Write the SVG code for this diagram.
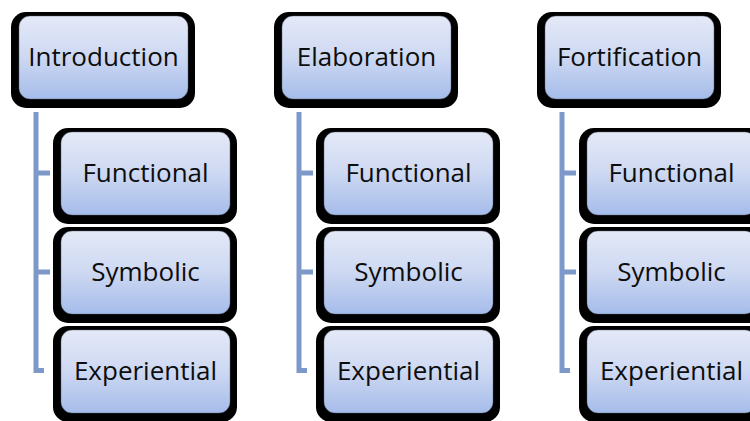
<svg xmlns="http://www.w3.org/2000/svg" width="750" height="421" viewBox="0 0 750 421">
  <defs>
    <linearGradient id="fillGrad" x1="0" y1="0" x2="0" y2="1">
      <stop offset="0" stop-color="#e4e9f7"/>
      <stop offset="0.5" stop-color="#cdd8f2"/>
      <stop offset="1" stop-color="#a5bcea"/>
    </linearGradient>
  </defs>
  <style>
    .outer { fill: #000000; }
    .inner { fill: url(#fillGrad); stroke: #5b6478; stroke-opacity: 0.45; stroke-width: 1; }
    .label { font-family: "Open Sans", "DejaVu Sans", sans-serif; font-size: 26px; fill: #0d0d0d; text-anchor: middle; }
    .conn { fill: none; stroke: #7d99ca; stroke-width: 5; stroke-linecap: butt; stroke-linejoin: miter; }
  </style>

  <g id="connectors">
    <path class="conn" d="M36,112 V370.5 H44 M36,173 H50 M36,272 H50"/>
    <path class="conn" d="M299,112 V370.5 H307 M299,173 H313 M299,272 H313"/>
    <path class="conn" d="M562,112 V370.5 H570 M562,173 H576 M562,272 H576"/>
  </g>

  <g id="introduction">
    <rect class="outer" x="11" y="12" width="184" height="96" rx="15"/>
    <rect class="inner" x="19" y="16" width="169" height="83" rx="11"/>
    <text class="label" x="103.5" y="66">Introduction</text>
  </g>
  <g id="intro-functional">
    <rect class="outer" x="53" y="128" width="184" height="96" rx="15"/>
    <rect class="inner" x="61" y="132" width="169" height="83" rx="11"/>
    <text class="label" x="145.5" y="182">Functional</text>
  </g>
  <g id="intro-symbolic">
    <rect class="outer" x="53" y="227" width="184" height="96" rx="15"/>
    <rect class="inner" x="61" y="231" width="169" height="83" rx="11"/>
    <text class="label" x="145.5" y="281">Symbolic</text>
  </g>
  <g id="intro-experiential">
    <rect class="outer" x="53" y="326" width="184" height="96" rx="15"/>
    <rect class="inner" x="61" y="330" width="169" height="83" rx="11"/>
    <text class="label" x="145.5" y="380">Experiential</text>
  </g>

  <g id="elaboration">
    <rect class="outer" x="274" y="12" width="184" height="96" rx="15"/>
    <rect class="inner" x="282" y="16" width="169" height="83" rx="11"/>
    <text class="label" x="366.5" y="66">Elaboration</text>
  </g>
  <g id="elab-functional">
    <rect class="outer" x="316" y="128" width="184" height="96" rx="15"/>
    <rect class="inner" x="324" y="132" width="169" height="83" rx="11"/>
    <text class="label" x="408.5" y="182">Functional</text>
  </g>
  <g id="elab-symbolic">
    <rect class="outer" x="316" y="227" width="184" height="96" rx="15"/>
    <rect class="inner" x="324" y="231" width="169" height="83" rx="11"/>
    <text class="label" x="408.5" y="281">Symbolic</text>
  </g>
  <g id="elab-experiential">
    <rect class="outer" x="316" y="326" width="184" height="96" rx="15"/>
    <rect class="inner" x="324" y="330" width="169" height="83" rx="11"/>
    <text class="label" x="408.5" y="380">Experiential</text>
  </g>

  <g id="fortification">
    <rect class="outer" x="537" y="12" width="184" height="96" rx="15"/>
    <rect class="inner" x="545" y="16" width="169" height="83" rx="11"/>
    <text class="label" x="629.5" y="66">Fortification</text>
  </g>
  <g id="fort-functional">
    <rect class="outer" x="579" y="128" width="184" height="96" rx="15"/>
    <rect class="inner" x="587" y="132" width="169" height="83" rx="11"/>
    <text class="label" x="671.5" y="182">Functional</text>
  </g>
  <g id="fort-symbolic">
    <rect class="outer" x="579" y="227" width="184" height="96" rx="15"/>
    <rect class="inner" x="587" y="231" width="169" height="83" rx="11"/>
    <text class="label" x="671.5" y="281">Symbolic</text>
  </g>
  <g id="fort-experiential">
    <rect class="outer" x="579" y="326" width="184" height="96" rx="15"/>
    <rect class="inner" x="587" y="330" width="169" height="83" rx="11"/>
    <text class="label" x="671.5" y="380">Experiential</text>
  </g>
</svg>
